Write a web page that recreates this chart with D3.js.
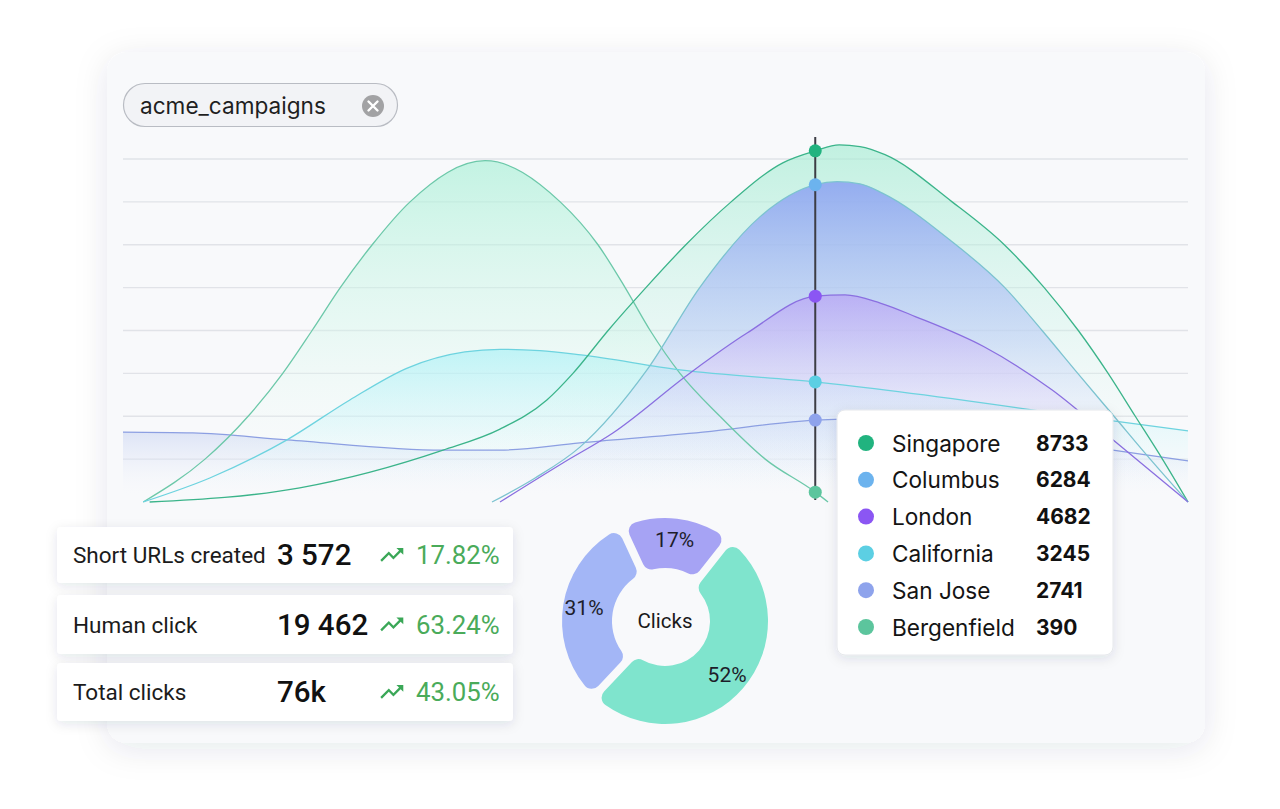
<!DOCTYPE html>
<html>
<head>
<meta charset="utf-8">
<script src="https://cdn.jsdelivr.net/npm/d3@7"></script>
<style>
  html, body { margin: 0; padding: 0; background: #ffffff; }
  svg { display: block; }
</style>
</head>
<body>
<svg id="chart" width="1280" height="809"></svg>
<script>
// ---------- DATA ----------
const seriesNames = ["Singapore", "Columbus", "London", "California", "San Jose", "Bergenfield"];
const tooltipValues = [8733, 6284, 4682, 3245, 2741, 390];
const gridTicks = [1000, 2000, 3000, 4000, 5000, 6000, 7000, 8000];
const hoverX = 13;

// [x, value] points
const singapore  = [[0.5,0],[3.32,330],[6.01,1210],[7.08,1700],[7.96,2380],[8.45,3000],[9.11,4000],[9.82,5000],[10.57,6000],[11.42,7000],[12.39,7910],[13,8190],[13.45,8330],[13.84,8290],[14.31,8100],[15.57,7000],[16.55,6000],[17.30,5000],[17.94,4000],[18.50,3000],[19.01,2000],[19.52,1000],[20,0]];
const columbus   = [[6.93,0],[7.74,560],[8.58,1280],[9.84,3080],[10.84,5020],[11.96,6650],[13,7400],[13.41,7470],[13.84,7420],[14.27,7200],[15.53,6110],[16.56,5000],[17.26,4000],[17.93,3000],[18.61,2000],[19.29,1000],[20,0]];
const london     = [[7.08,0],[8.26,910],[9.20,1610],[10.65,3010],[11.72,3940],[13,4800],[13.56,4830],[14.22,4640],[14.89,4320],[16.17,3620],[17.45,2610],[18.59,1450],[20,0]];
const california = [[0.38,0],[1.63,560],[3.08,1450],[4.26,2380],[5.35,3130],[6.42,3500],[7.08,3560],[7.83,3530],[8.60,3430],[10.46,3080],[13,2800],[18.59,1890],[20,1660]];
const sanJose    = [[0,1630],[1.31,1610],[3.08,1450],[6.01,1210],[7.08,1210],[8.58,1380],[10.89,1630],[13,1910],[14.22,1950],[15.53,1770],[18.59,1210],[20,960]];
const bergenfield= [[0.38,0],[1.54,1000],[2.35,2000],[3.00,3000],[3.55,4000],[4.08,5000],[4.68,6000],[5.39,7000],[6.80,7960],[8.21,7000],[8.92,6000],[9.43,5000],[9.90,4000],[10.46,3000],[11.21,2000],[12.06,1000],[13,230],[13.24,0]];

const statLabels  = ["Short URLs created", "Human click", "Total clicks"];
const statValues  = ["3 572", "19 462", "76k"];
const statChanges = ["17.82%", "63.24%", "43.05%"];

const donutLabels = ["17%", "52%", "31%"];
const donutValues = [17, 52, 31];
const donutTitle = "Clicks";
const tagLabel = "acme_campaigns";

// ---------- STYLE ----------
const seriesData = {
  "Singapore": singapore, "Columbus": columbus, "London": london,
  "California": california, "San Jose": sanJose, "Bergenfield": bergenfield
};
const stroke = {
  "Singapore": "#3bb48a", "Columbus": "#7cc3d0", "London": "#8a6fe0",
  "California": "#6dd3df", "San Jose": "#8c9fe2", "Bergenfield": "#6cc8a9"
};
const dot = {
  "Singapore": "#21b37f", "Columbus": "#6cb3ee", "London": "#8b56f3",
  "California": "#5ccfe3", "San Jose": "#8ea3ec", "Bergenfield": "#5cc59d"
};
const fillGrad = {
  "Singapore":  [["#a4ecd2",0.65],["#c6f3e6",0.35],["#ffffff",0]],
  "Columbus":   [["#8ea5f1",0.9],["#bccdf6",0.55],["#ffffff",0]],
  "London":     [["#b69bf5",0.62],["#dccff9",0.35],["#ffffff",0]],
  "California": [["#a2f0f6",0.6],["#c8f6f9",0.35],["#ffffff",0]],
  "San Jose":   [["#b3c3ee",0.55],["#d6def5",0.3],["#ffffff",0]],
  "Bergenfield":[["#aaf0d7",0.68],["#d0f7e9",0.38],["#ffffff",0]]
};
const drawOrder = ["San Jose", "Bergenfield", "California", "Singapore", "Columbus", "London"];

const svg = d3.select("#chart");
const defs = svg.append("defs");

function shadow(id, dy, blur, op) {
  const f = defs.append("filter").attr("id", id)
    .attr("x", "-20%").attr("y", "-20%").attr("width", "140%").attr("height", "150%");
  f.append("feDropShadow").attr("dx", 0).attr("dy", dy)
    .attr("stdDeviation", blur).attr("flood-color", "#1e2a44").attr("flood-opacity", op);
}
shadow("cardShadow", 6, 16, 0.10);
shadow("boxShadow", 3, 6, 0.11);

// outer card
svg.append("rect").attr("x", 107).attr("y", 52).attr("width", 1098).attr("height", 691)
  .attr("rx", 20).attr("fill", "#f8f9fb").attr("filter", "url(#cardShadow)");

// tag pill
const tag = svg.append("g");
tag.append("rect").attr("x", 123.5).attr("y", 83.5).attr("width", 274).attr("height", 43)
  .attr("rx", 21.5).attr("fill", "#f2f3f6").attr("stroke", "#b9bcc3").attr("stroke-width", 1.2);
tag.append("text").attr("x", 140).attr("y", 105).attr("dominant-baseline", "central")
  .attr("font-family", "Inter, sans-serif").attr("font-size", 22.6).attr("fill", "#1f1f1f")
  .text(tagLabel);
tag.append("circle").attr("cx", 373).attr("cy", 106).attr("r", 11).attr("fill", "#a2a2a4");
tag.append("path").attr("d", "M368.5,101.5L377.5,110.5M377.5,101.5L368.5,110.5")
  .attr("stroke", "#ffffff").attr("stroke-width", 2.4).attr("stroke-linecap", "round");

// scales
const x = d3.scaleLinear().domain([0, 20]).range([123, 1188]);
const y = d3.scaleLinear().domain([0, 8000]).range([502, 159]);

// grid
svg.append("g").selectAll("line").data(gridTicks).join("line")
  .attr("x1", x(0)).attr("x2", x(20))
  .attr("y1", d => y(d)).attr("y2", d => y(d))
  .attr("stroke", "#e1e3e8").attr("stroke-width", 1.4);

// gradients
seriesNames.forEach((name, i) => {
  const g = defs.append("linearGradient").attr("id", "grad" + i)
    .attr("x1", 0).attr("y1", 0).attr("x2", 0).attr("y2", 1);
  const stops = fillGrad[name];
  stops.forEach((s, k) => {
    g.append("stop").attr("offset", k / (stops.length - 1))
      .attr("stop-color", s[0]).attr("stop-opacity", s[1]);
  });
});

const area = d3.area().x(d => x(d[0])).y0(y(0)).y1(d => y(d[1])).curve(d3.curveMonotoneX);
const line = d3.line().x(d => x(d[0])).y(d => y(d[1])).curve(d3.curveMonotoneX);

const areas = svg.append("g");
drawOrder.forEach(name => {
  areas.append("path").attr("d", area(seriesData[name]))
    .attr("fill", "url(#grad" + seriesNames.indexOf(name) + ")");
});
const lines = svg.append("g");
drawOrder.forEach(name => {
  lines.append("path").attr("d", line(seriesData[name]))
    .attr("fill", "none").attr("stroke", stroke[name]).attr("stroke-width", 1.3);
});

// hover line
svg.append("line").attr("x1", x(hoverX)).attr("x2", x(hoverX))
  .attr("y1", 137).attr("y2", y(0) - 2)
  .attr("stroke", "#3c3d45").attr("stroke-width", 2);

// markers
svg.append("g").selectAll("circle").data(seriesNames).join("circle")
  .attr("cx", x(hoverX))
  .attr("cy", d => y(seriesData[d].find(p => p[0] === hoverX)[1]))
  .attr("r", 6.5).attr("fill", d => dot[d]);

// tooltip legend
const tip = svg.append("g");
tip.append("rect").attr("x", 837).attr("y", 410).attr("width", 276).attr("height", 245)
  .attr("rx", 8).attr("fill", "#ffffff").attr("stroke", "#e6e8ec").attr("filter", "url(#boxShadow)");
const rowY = d3.scalePoint().domain(seriesNames).range([443, 627]);
const rows = tip.selectAll("g.row").data(seriesNames).join("g").attr("class", "row")
  .attr("transform", d => `translate(0,${rowY(d)})`);
rows.append("circle").attr("cx", 866).attr("cy", 0).attr("r", 8).attr("fill", d => dot[d]);
rows.append("text").attr("x", 892).attr("y", 0).attr("dominant-baseline", "central")
  .attr("font-family", "Inter, sans-serif").attr("font-size", 22.6).attr("fill", "#141414")
  .text(d => d);
rows.append("text").attr("x", 1036).attr("y", 0).attr("dominant-baseline", "central")
  .attr("font-family", "Inter, sans-serif").attr("font-size", 21).attr("font-weight", 700)
  .attr("fill", "#111111")
  .text((d, i) => tooltipValues[i]);

// stat cards
const cardY = [527, 595, 663];
const cardH = [56, 59, 58];
const cards = svg.append("g").selectAll("g").data(statLabels).join("g")
  .attr("transform", (d, i) => `translate(57,${cardY[i]})`);
cards.append("rect").attr("width", 456).attr("height", (d, i) => cardH[i])
  .attr("rx", 4).attr("fill", "#ffffff").attr("filter", "url(#boxShadow)");
cards.append("text").attr("x", 16).attr("y", (d, i) => cardH[i] / 2)
  .attr("dominant-baseline", "central").attr("font-family", "Roboto, sans-serif")
  .attr("font-size", 22.5).attr("fill", "#1b1b1b").text(d => d);
cards.append("text").attr("x", 220).attr("y", (d, i) => cardH[i] / 2)
  .attr("dominant-baseline", "central").attr("font-family", "Roboto, sans-serif")
  .attr("font-size", 29.5).attr("font-weight", 500).attr("fill", "#111111")
  .text((d, i) => statValues[i]);
cards.append("path")
  .attr("d", "M16 6l2.29 2.29-4.88 4.88-4-4L2 16.59 3.41 18l6-6 4 4 6.3-6.29L22 12V6z")
  .attr("fill", "#3aa757")
  .attr("transform", (d, i) => `translate(321,${cardH[i] / 2 - 14}) scale(1.15)`);
cards.append("text").attr("x", 359).attr("y", (d, i) => cardH[i] / 2)
  .attr("dominant-baseline", "central").attr("font-family", "Roboto, sans-serif")
  .attr("font-size", 25.8).attr("fill", "#4aab5a")
  .text((d, i) => statChanges[i]);

// donut
const cx = 665, cy = 621;
const startA = -Math.PI * donutValues[0] / 100 + 0.1;
const pie = d3.pie().sort(null).value(d => d)
  .startAngle(startA).endAngle(startA + 2 * Math.PI).padAngle(0.07);
const arc = d3.arc().innerRadius(d => d.index === 1 ? 45 : 53).outerRadius(103).cornerRadius(9);
const labelArc = d3.arc().innerRadius(82).outerRadius(82);
const donutColors = ["#a6a3f4", "#7fe4cd", "#a3b6f6"];
const dg = svg.append("g").attr("transform", `translate(${cx},${cy})`);
dg.selectAll("path").data(pie(donutValues)).join("path")
  .attr("d", arc).attr("fill", (d, i) => donutColors[i]);
dg.selectAll("text.lbl").data(pie(donutValues)).join("text").attr("class", "lbl")
  .attr("transform", d => `translate(${labelArc.centroid(d)})`)
  .attr("text-anchor", "middle").attr("dominant-baseline", "central")
  .attr("font-family", "Roboto, sans-serif").attr("font-size", 21).attr("fill", "#1d1d2a")
  .text((d, i) => donutLabels[i]);
dg.append("text").attr("text-anchor", "middle").attr("dominant-baseline", "central")
  .attr("font-family", "Roboto, sans-serif").attr("font-size", 20.5).attr("fill", "#1a1a1a")
  .text(donutTitle);
</script>
</body>
</html>
